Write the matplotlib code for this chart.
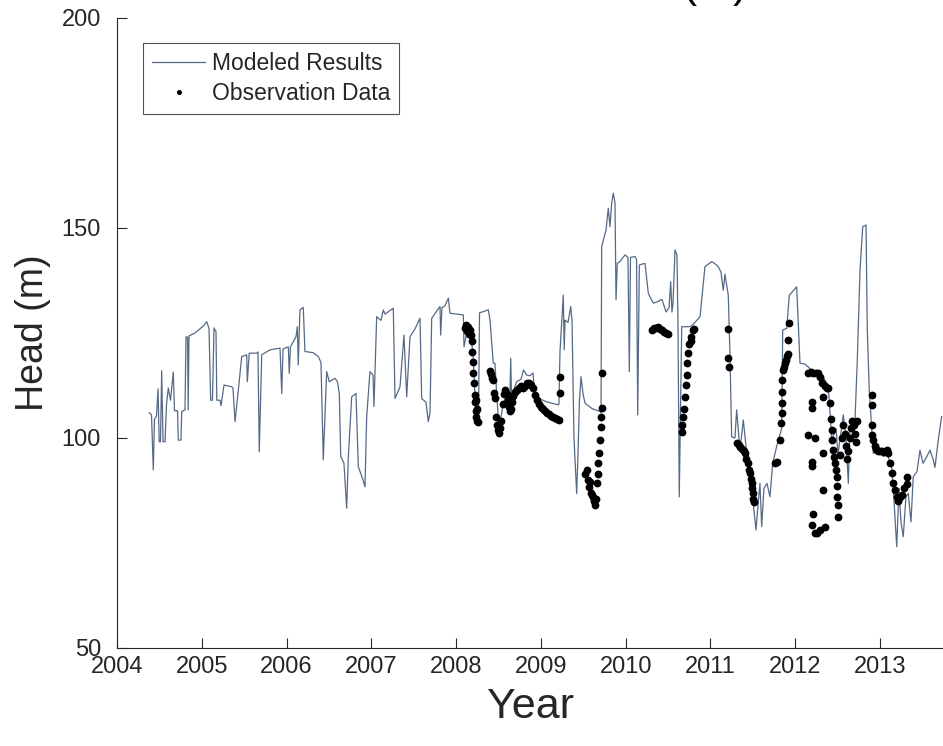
import matplotlib
matplotlib.use("Agg")
import matplotlib.pyplot as plt
from matplotlib.lines import Line2D

# Modeled head (m) by decimal year
model_year = [
    2004.381, 2004.407, 2004.428, 2004.442, 2004.466, 2004.484, 2004.498, 2004.513, 2004.527, 2004.543,
    2004.566, 2004.584, 2004.605, 2004.631, 2004.664, 2004.678, 2004.714, 2004.723, 2004.755, 2004.763,
    2004.802, 2004.814, 2004.832, 2004.840, 2004.849, 2004.920, 2004.979, 2005.026, 2005.058, 2005.085,
    2005.105, 2005.126, 2005.144, 2005.168, 2005.177, 2005.215, 2005.227, 2005.262, 2005.353, 2005.368,
    2005.392, 2005.419, 2005.431, 2005.471, 2005.530, 2005.537, 2005.560, 2005.648, 2005.663, 2005.678,
    2005.707, 2005.805, 2005.923, 2005.943, 2005.958, 2006.021, 2006.032, 2006.046, 2006.111, 2006.127,
    2006.138, 2006.158, 2006.197, 2006.217, 2006.315, 2006.374, 2006.406, 2006.433, 2006.473, 2006.504,
    2006.571, 2006.601, 2006.622, 2006.639, 2006.677, 2006.709, 2006.728, 2006.768, 2006.819, 2006.846,
    2006.902, 2006.925, 2006.945, 2006.984, 2007.020, 2007.031, 2007.063, 2007.114, 2007.141, 2007.161,
    2007.259, 2007.279, 2007.338, 2007.385, 2007.417, 2007.456, 2007.515, 2007.574, 2007.594, 2007.645,
    2007.672, 2007.692, 2007.712, 2007.763, 2007.810, 2007.818, 2007.833, 2007.869, 2007.908, 2007.928,
    2008.085, 2008.093, 2008.125, 2008.164, 2008.199, 2008.223, 2008.246, 2008.264, 2008.276, 2008.380,
    2008.400, 2008.438, 2008.458, 2008.478, 2008.506, 2008.553, 2008.588, 2008.635, 2008.644, 2008.653,
    2008.714, 2008.765, 2008.795, 2008.832, 2008.871, 2008.907, 2008.930, 2009.068, 2009.205, 2009.213,
    2009.225, 2009.264, 2009.275, 2009.284, 2009.320, 2009.351, 2009.367, 2009.390, 2009.422, 2009.437,
    2009.455, 2009.473, 2009.497, 2009.520, 2009.603, 2009.697, 2009.709, 2009.717, 2009.736, 2009.768,
    2009.795, 2009.815, 2009.835, 2009.854, 2009.874, 2009.886, 2009.901, 2009.933, 2009.992, 2010.027,
    2010.043, 2010.057, 2010.110, 2010.128, 2010.142, 2010.161, 2010.228, 2010.267, 2010.326, 2010.381,
    2010.428, 2010.476, 2010.511, 2010.531, 2010.546, 2010.558, 2010.582, 2010.605, 2010.617, 2010.632,
    2010.661, 2010.759, 2010.794, 2010.877, 2010.935, 2011.015, 2011.053, 2011.092, 2011.124, 2011.151,
    2011.171, 2011.210, 2011.230, 2011.250, 2011.289, 2011.309, 2011.348, 2011.387, 2011.419, 2011.466,
    2011.502, 2011.537, 2011.561, 2011.584, 2011.604, 2011.631, 2011.667, 2011.702, 2011.734, 2011.781,
    2011.840, 2011.852, 2011.899, 2011.930, 2011.973, 2012.017, 2012.056, 2012.115, 2012.213, 2012.292,
    2012.371, 2012.398, 2012.430, 2012.481, 2012.504, 2012.567, 2012.599, 2012.626, 2012.646, 2012.705,
    2012.732, 2012.764, 2012.796, 2012.835, 2012.850, 2012.873, 2012.921, 2012.976, 2013.038, 2013.078,
    2013.137, 2013.165, 2013.197, 2013.224, 2013.247, 2013.274, 2013.306, 2013.333, 2013.365, 2013.392,
    2013.436, 2013.471, 2013.507, 2013.550, 2013.589, 2013.625, 2013.648, 2013.687, 2013.727,
]
model_head = [
    106.0, 105.5, 92.4, 104.5, 105.2, 111.7, 99.1, 99.1, 116.0, 99.1,
    99.1, 108.0, 111.9, 109.0, 115.7, 106.5, 106.5, 99.5, 99.5, 106.3,
    106.7, 124.1, 124.0, 106.7, 124.3, 125.0, 126.0, 126.8, 127.7, 126.1,
    109.0, 109.0, 126.2, 125.3, 109.0, 109.0, 107.7, 112.6, 112.2, 111.9,
    103.9, 109.0, 111.4, 119.4, 119.8, 113.4, 120.2, 120.2, 120.5, 96.7,
    119.8, 121.0, 121.4, 110.6, 121.2, 121.7, 115.4, 121.7, 124.1, 126.5,
    117.4, 130.5, 131.1, 120.6, 120.3, 119.4, 118.0, 94.8, 115.8, 113.4,
    114.2, 113.4, 110.6, 95.6, 94.0, 83.3, 95.2, 109.8, 110.6, 93.2,
    90.0, 88.4, 105.1, 115.8, 115.0, 107.5, 128.9, 128.0, 130.5, 129.5,
    130.9, 109.4, 112.2, 124.5, 109.8, 124.1, 126.0, 128.5, 109.4, 108.5,
    103.9, 106.0, 128.5, 130.0, 131.3, 124.5, 131.0, 131.5, 133.3, 129.7,
    129.3, 121.7, 125.0, 126.0, 120.0, 110.0, 104.0, 104.0, 129.8, 130.5,
    128.0, 117.8, 117.8, 110.6, 102.0, 108.0, 110.0, 110.5, 119.0, 110.0,
    113.4, 114.0, 116.2, 115.0, 114.8, 115.5, 109.8, 108.6, 107.9, 108.0,
    120.6, 134.0, 121.0, 128.1, 127.5, 131.3, 128.0, 100.0, 86.8, 96.0,
    109.0, 114.6, 110.5, 108.3, 107.0, 106.3, 106.0, 145.6, 147.1, 149.5,
    154.7, 150.3, 155.9, 158.3, 156.0, 132.9, 141.6, 142.0, 143.6, 143.0,
    115.8, 143.0, 143.2, 142.5, 105.5, 141.2, 141.6, 134.4, 132.1, 132.5,
    133.0, 130.0, 131.0, 137.2, 130.0, 132.0, 144.8, 143.5, 127.0, 86.0,
    126.5, 126.5, 127.0, 128.9, 140.8, 142.0, 141.5, 140.8, 139.5, 135.2,
    139.0, 134.0, 120.0, 100.3, 100.0, 106.7, 97.0, 104.3, 98.0, 94.0,
    85.0, 78.1, 84.0, 89.2, 78.9, 88.0, 89.2, 86.0, 94.0, 98.0,
    102.3, 125.7, 126.1, 134.0, 135.0, 136.0, 117.8, 117.6, 115.8, 115.8,
    113.0, 110.0, 99.5, 102.2, 96.0, 105.5, 100.0, 89.2, 103.0, 104.3,
    118.6, 140.0, 150.3, 150.7, 125.7, 111.4, 96.3, 97.0, 95.6, 96.5,
    93.2, 85.0, 74.1, 88.0, 80.0, 76.5, 86.0, 86.8, 80.0, 90.8,
    92.0, 97.1, 94.0, 95.5, 97.1, 95.0, 93.0, 99.5, 105.1,
]

# Observed head (m) by decimal year
obs_year = [
    2008.105, 2008.117, 2008.128, 2008.140, 2008.152, 2008.164, 2008.176, 2008.188, 2008.193, 2008.199,
    2008.205, 2008.211, 2008.217, 2008.223, 2008.229, 2008.235, 2008.240, 2008.246, 2008.252, 2008.258,
    2008.400, 2008.411, 2008.423, 2008.435, 2008.447, 2008.458, 2008.470, 2008.482, 2008.494, 2008.506,
    2008.517, 2008.529, 2008.553, 2008.565, 2008.576, 2008.600, 2008.612, 2008.624, 2008.635, 2008.647,
    2008.659, 2008.671, 2008.694, 2008.718, 2008.742, 2008.765, 2008.789, 2008.812, 2008.836, 2008.860,
    2008.883, 2008.907, 2008.930, 2008.954, 2008.977, 2009.001, 2009.025, 2009.048, 2009.072, 2009.095,
    2009.119, 2009.143, 2009.166, 2009.190, 2009.213, 2009.225, 2009.231,
    2009.520, 2009.538, 2009.555, 2009.567, 2009.579, 2009.591, 2009.603, 2009.618, 2009.626, 2009.638,
    2009.650, 2009.658, 2009.668, 2009.677, 2009.685, 2009.697, 2009.705, 2009.709, 2009.715, 2009.721,
    2010.310, 2010.334, 2010.357, 2010.381, 2010.405, 2010.428, 2010.452, 2010.476, 2010.499,
    2010.661, 2010.670, 2010.680, 2010.688, 2010.700, 2010.711, 2010.720, 2010.727, 2010.738, 2010.750,
    2010.767, 2010.776, 2010.790, 2010.806,
    2011.210, 2011.212, 2011.214,
    2011.309, 2011.331, 2011.348, 2011.368, 2011.390, 2011.407, 2011.425, 2011.446, 2011.454, 2011.466,
    2011.478, 2011.486, 2011.492, 2011.498, 2011.505, 2011.513,
    2011.761, 2011.785, 2011.820, 2011.832, 2011.838, 2011.840, 2011.844, 2011.847, 2011.859, 2011.867,
    2011.879, 2011.891, 2011.903, 2011.918, 2011.920, 2011.930,
    2012.154, 2012.186, 2012.213, 2012.245, 2012.272, 2012.292, 2012.312, 2012.331, 2012.351, 2012.371,
    2012.390, 2012.410, 2012.422, 2012.430, 2012.439, 2012.449, 2012.457, 2012.469, 2012.481, 2012.489,
    2012.492, 2012.496, 2012.502, 2012.508,
    2012.528, 2012.551, 2012.563, 2012.587, 2012.599, 2012.610, 2012.622, 2012.646, 2012.658, 2012.669,
    2012.693, 2012.705, 2012.716, 2012.728,
    2012.154, 2012.194, 2012.194, 2012.233, 2012.194, 2012.198, 2012.331, 2012.331, 2012.213, 2012.194,
    2012.233, 2012.257, 2012.292, 2012.351,
    2012.902, 2012.902, 2012.902, 2012.911, 2012.921, 2012.941, 2012.958, 2012.976, 2013.000, 2013.023,
    2013.047, 2013.078, 2013.094, 2013.118, 2013.137, 2013.153, 2013.177, 2013.197, 2013.212, 2013.236,
    2013.259, 2013.283, 2013.314, 2013.318,
]
obs_head = [
    126.2, 126.9, 125.5, 126.5, 124.8, 125.8, 124.5, 123.0, 120.5, 118.0,
    115.5, 113.0, 110.2, 108.5, 106.5, 105.0, 109.0, 104.0, 107.0, 103.8,
    116.0, 115.2, 114.2, 113.8, 110.6, 109.5, 105.0, 103.0, 101.8, 101.2,
    102.5, 104.0, 108.0, 110.5, 111.4, 110.5, 109.0, 107.5, 106.5, 107.0,
    108.5, 110.0, 111.0, 111.5, 112.0, 112.3, 112.0, 112.5, 113.0, 113.2,
    112.6, 111.8, 110.2, 109.0, 108.0, 107.5, 107.0, 106.4, 106.0, 105.6,
    105.3, 105.0, 104.8, 104.5, 104.3, 110.6, 114.6,
    91.5, 92.4, 90.0, 88.4, 89.5, 87.0, 86.5, 86.0, 85.0, 84.0,
    85.5, 89.2, 91.5, 94.0, 96.5, 99.5, 102.7, 105.1, 107.1, 115.4,
    125.7, 126.2, 126.2, 126.4, 126.0, 125.7, 125.2, 125.0, 124.8,
    101.5, 103.0, 105.1, 107.0, 109.8, 112.6, 115.0, 117.8, 120.2, 122.5,
    124.1, 123.0, 125.7, 126.0,
    126.0, 119.0, 116.8,
    98.7, 98.3, 97.8, 97.5, 97.0, 96.4, 95.0, 94.0, 92.5, 91.6,
    90.3, 89.2, 88.0, 86.8, 85.5, 84.8,
    94.0, 94.3, 99.5, 103.5, 106.0, 108.3, 111.0, 113.8, 116.2, 117.0,
    117.8, 118.5, 119.5, 120.0, 123.3, 127.3,
    115.4, 115.6, 115.5, 115.4, 115.4, 114.5, 113.0, 109.8, 112.5, 112.0,
    111.8, 108.3, 104.5, 101.9, 99.5, 97.1, 95.5, 94.0, 92.5, 90.8,
    88.5, 86.0, 84.0, 81.3,
    96.0, 100.0, 103.0, 101.0, 98.0, 95.0, 97.0, 100.0, 102.5, 104.0,
    103.0, 101.0, 99.0, 104.0,
    100.7, 108.6, 107.1, 99.9, 94.4, 93.4, 96.4, 87.6, 82.0, 79.3,
    77.3, 77.5, 78.1, 78.9,
    110.2, 107.9, 103.1, 100.7, 99.5, 98.0, 97.5, 97.0, 96.8, 97.0,
    96.6, 97.1, 96.4, 94.0, 91.6, 89.2, 87.6, 86.0, 85.0, 86.0,
    86.5, 88.0, 90.8, 89.0,
]

year_ticks = [2004, 2005, 2006, 2007, 2008, 2009, 2010, 2011, 2012, 2013]
head_ticks = [50, 100, 150, 200]

plt.rcParams["font.family"] = ["Liberation Sans", "DejaVu Sans"]
text_color = "#262626"
line_color = "#566a86"

fig = plt.figure(figsize=(9.43, 7.46), dpi=100)
ax = fig.add_axes([117 / 943, 98 / 746, 826 / 943, 630 / 746])

ax.plot(model_year, model_head, color=line_color, lw=0.9, zorder=2)
ax.plot(obs_year, obs_head, ls="none", marker="o", ms=4.6, color="black",
        mec="black", zorder=3)

ax.set_xlim(2004, 2004 + 826 / 84.78)
ax.set_ylim(50, 200)
ax.set_xticks(year_ticks)
ax.set_yticks(head_ticks)
ax.tick_params(direction="in", length=7, width=0.8, colors=text_color,
               labelsize=17)
ax.tick_params(axis="x", pad=6)
ax.tick_params(axis="y", pad=11.5)
for side in ("top", "right"):
    ax.spines[side].set_visible(False)
for side in ("left", "bottom"):
    ax.spines[side].set_color(text_color)
    ax.spines[side].set_linewidth(0.8)

ax.set_xlabel("Year", fontsize=31, color=text_color, labelpad=6)
ax.set_ylabel("Head (m)", fontsize=27, color=text_color, labelpad=8)

# Figure title sits above the top edge; only its lowest strokes fall inside
fig.text(0.585, 1.004, "Pressure at Well (m)", fontsize=31, color="black",
         ha="center", va="baseline")

handles = [
    Line2D([], [], color=line_color, lw=0.9),
    Line2D([], [], ls="none", marker="o", ms=2.6, color="black"),
]
leg = ax.legend(handles, ["Modeled Results", "Observation Data"],
                loc="upper left", bbox_to_anchor=(0.0315, 0.960),
                borderaxespad=0, fontsize=16.5, frameon=True, fancybox=False,
                handlelength=2.3, handletextpad=0.3, borderpad=0.4,
                labelspacing=0.3)
leg.get_frame().set_edgecolor(text_color)
leg.get_frame().set_linewidth(0.8)
for t in leg.get_texts():
    t.set_color(text_color)

fig.savefig("out.png", dpi=100)
